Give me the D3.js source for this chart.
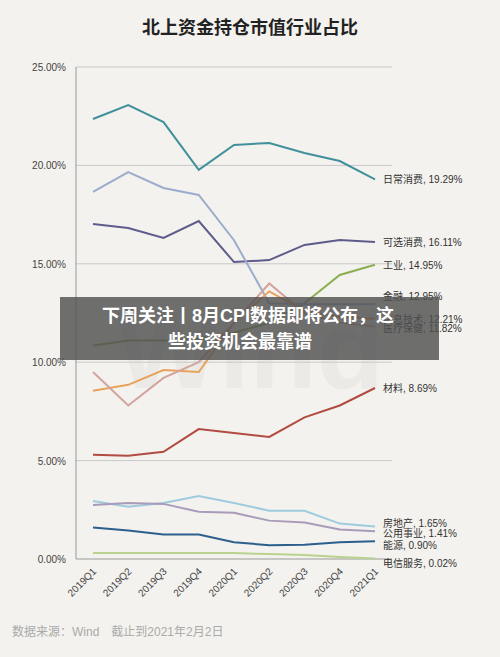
<!DOCTYPE html>
<html><head><meta charset="utf-8">
<script src="https://cdn.jsdelivr.net/npm/d3@7"></script>
<style>body{margin:0;background:#f3f2ee;font-family:"Liberation Sans","Noto Sans CJK SC",sans-serif}</style>
</head><body><svg id="c"></svg>
<script>
const quarters = ['2019Q1','2019Q2','2019Q3','2019Q4','2020Q1','2020Q2','2020Q3','2020Q4','2021Q1'];
const yTicks = [0, 5, 10, 15, 20, 25];
const names = ['日常消费','可选消费','工业','金融','信息技术','医疗保健','材料','房地产','公用事业','能源','电信服务'];
const colors = ['#41909c','#5f5b8c','#8cad52','#9cadcc','#e9a25c','#d3a39d','#b24c42','#9fcbde','#a99bba','#2d5f8c','#bad28f'];
const values = [
  [22.36,23.07,22.2,19.77,21.04,21.14,20.63,20.22,19.29],
  [17.02,16.82,16.31,17.17,15.09,15.19,15.96,16.21,16.11],
  [10.85,11.1,11.1,11.2,11.5,12.0,13.0,14.43,14.95],
  [18.65,19.66,18.85,18.5,16.2,13.0,12.95,12.95,12.95],
  [8.55,8.85,9.6,9.5,12.0,13.6,12.6,12.3,12.21],
  [9.5,7.8,9.2,10.0,12.0,14.0,12.5,12.0,11.82],
  [5.3,5.25,5.45,6.6,6.4,6.2,7.2,7.8,8.69],
  [2.95,2.65,2.85,3.2,2.85,2.45,2.45,1.8,1.65],
  [2.75,2.85,2.8,2.4,2.35,1.95,1.85,1.5,1.41],
  [1.6,1.45,1.25,1.25,0.85,0.7,0.72,0.85,0.90],
  [0.3,0.3,0.3,0.3,0.3,0.25,0.2,0.1,0.02]
];
// label y offsets (px) to avoid overlap at the right end
const labelShift = [0,0,0,-8,0,2,0,-4,2,4,4];

const W = 500, H = 657;
const svg = d3.select('#c').attr('width', W).attr('height', H);
const x = d3.scalePoint().domain(quarters).range([93, 375]);
const y = d3.scaleLinear().domain([0, 25]).range([559, 67]);

svg.append('text').attr('x', 250).attr('y', 34).attr('text-anchor', 'middle')
  .attr('font-size', 18).attr('font-weight', 'bold').attr('fill', '#222').text('北上资金持仓市值行业占比');

svg.append('text').attr('x', 250).attr('y', 388).attr('text-anchor', 'middle')
  .attr('font-size', 110).attr('font-weight', 'bold').attr('fill', '#ebeae6').text('Wind');

svg.append('g').selectAll('line').data(yTicks.filter(d => d > 0)).join('line')
  .attr('x1', 76).attr('x2', 392).attr('y1', d => y(d)).attr('y2', d => y(d))
  .attr('stroke', '#c8c8c8').attr('stroke-width', 1);
svg.append('line').attr('x1', 76).attr('x2', 76).attr('y1', 67).attr('y2', 559).attr('stroke', '#999');
svg.append('line').attr('x1', 76).attr('x2', 392).attr('y1', 559).attr('y2', 559).attr('stroke', '#999');

svg.append('g').selectAll('text').data(yTicks).join('text')
  .attr('x', 66).attr('y', d => y(d) + 4).attr('text-anchor', 'end')
  .attr('font-size', 10).attr('fill', '#444').text(d => d.toFixed(2) + '%');

svg.append('g').selectAll('text').data(quarters).join('text')
  .attr('transform', d => `translate(${x(d) + 4},${572}) rotate(-45)`)
  .attr('text-anchor', 'end').attr('font-size', 10).attr('fill', '#444').text(d => d);

const line = d3.line().x((d, i) => x(quarters[i])).y(d => y(d));
svg.append('g').selectAll('path').data(values).join('path')
  .attr('d', line).attr('fill', 'none').attr('stroke', (d, i) => colors[i]).attr('stroke-width', 2);

svg.append('g').selectAll('text').data(values).join('text')
  .attr('x', 383).attr('y', (d, i) => y(d[8]) + 4 + labelShift[i])
  .attr('font-size', 10).attr('fill', '#333')
  .text((d, i) => `${names[i]}, ${d[8].toFixed(2)}%`);

svg.append('text').attr('x', 12).attr('y', 636).attr('font-size', 12).attr('fill', '#aaa')
  .text('数据来源：Wind　截止到2021年2月2日');

svg.append('rect').attr('x', 60).attr('y', 297).attr('width', 379).attr('height', 63)
  .attr('fill', 'rgba(80,80,80,0.82)');
const bt = svg.append('text').attr('text-anchor', 'middle').attr('font-size', 18)
  .attr('font-weight', 'bold').attr('fill', '#fff');
bt.append('tspan').attr('x', 248).attr('y', 322).text('下周关注丨8月CPI数据即将公布，这');
bt.append('tspan').attr('x', 240).attr('y', 348).text('些投资机会最靠谱');
</script></body></html>
